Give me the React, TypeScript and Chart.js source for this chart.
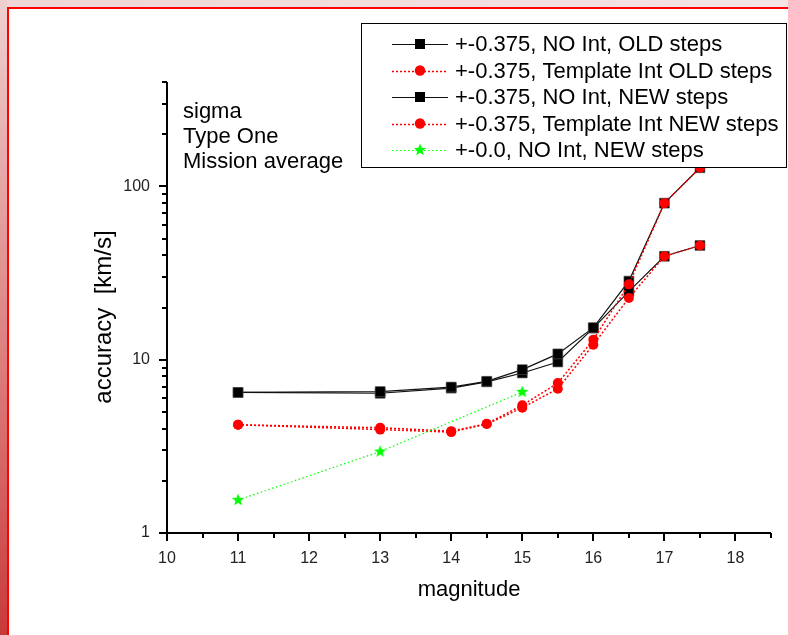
import React, { useEffect, useRef } from 'react';
import { Chart, registerables } from 'chart.js';

Chart.register(...registerables);

// ---------- data ----------
const magnitudes = [11, 13, 14, 14.5, 15, 15.5, 16, 16.5, 17, 17.5];
const noIntOldSteps = [6.47, 6.55, 6.95, 7.5, 8.76, 10.8, 15.3, 28.4, 80, 128];
const templateOldSteps = [4.21, 4.05, 3.87, 4.27, 5.46, 7.33, 13.05, 27.2, 80, 128];
const noIntNewSteps = [6.47, 6.4, 6.85, 7.45, 8.38, 9.7, 15.2, 24.8, 39.5, 45.6];
const templateNewSteps = [4.21, 3.95, 3.82, 4.25, 5.28, 6.8, 12.2, 22.7, 39.5, 45.6];
const zeroMagnitudes = [11, 13, 15];
const zeroNoIntNewSteps = [1.55, 2.95, 6.51];

const seriesLabels = [
  '+-0.375, NO Int, OLD steps',
  '+-0.375, Template Int OLD steps',
  '+-0.375, NO Int, NEW steps',
  '+-0.375, Template Int NEW steps',
  '+-0.0, NO Int, NEW steps',
];

const xTickValues = [10, 10.5, 11, 11.5, 12, 12.5, 13, 13.5, 14, 14.5, 15, 15.5, 16, 16.5, 17, 17.5, 18, 18.5];
const xMajorTicks = [10, 11, 12, 13, 14, 15, 16, 17, 18];
const yTickValues = [1, 2, 3, 4, 5, 6, 7, 8, 9, 10, 20, 30, 40, 50, 60, 70, 80, 90, 100, 200, 300, 400];
const yMajorTicks = [1, 10, 100];
const annotationLines = ['sigma', 'Type One', 'Mission average'];
const xTitle = 'magnitude';
const yTitle = 'accuracy  [km/s]';

const FONT = '"Liberation Sans", Arial, Helvetica, sans-serif';

function makeStar(size: number, color: string): HTMLCanvasElement {
  const c = document.createElement('canvas');
  c.width = size;
  c.height = size;
  const g = c.getContext('2d')!;
  drawStar(g, size / 2, size / 2, size / 2 - 0.5, color);
  return c;
}

function drawStar(g: CanvasRenderingContext2D, cx: number, cy: number, R: number, color: string) {
  const r = R * 0.42;
  g.beginPath();
  for (let i = 0; i < 10; i++) {
    const ang = -Math.PI / 2 + (i * Math.PI) / 5;
    const rr = i % 2 === 0 ? R : r;
    const px = cx + rr * Math.cos(ang);
    const py = cy + rr * Math.sin(ang);
    if (i === 0) g.moveTo(px, py);
    else g.lineTo(px, py);
  }
  g.closePath();
  g.fillStyle = color;
  g.fill();
}

const pts = (xs: number[], ys: number[]) => xs.map((x, i) => ({ x, y: ys[i] }));

type Style = {
  color: string;
  dash: number[];
  width: number;
  marker: 'square' | 'circle' | 'star';
};

const styles: Style[] = [
  { color: '#111111', dash: [], width: 1.2, marker: 'square' },
  { color: '#ff0000', dash: [2, 2], width: 1.5, marker: 'circle' },
  { color: '#111111', dash: [], width: 1.2, marker: 'square' },
  { color: '#ff0000', dash: [2, 2], width: 1.5, marker: 'circle' },
  { color: '#00ff00', dash: [1.5, 2.5], width: 1.2, marker: 'star' },
];

function drawMarker(g: CanvasRenderingContext2D, m: Style['marker'], x: number, y: number) {
  if (m === 'square') {
    g.fillStyle = '#000';
    g.fillRect(x - 5, y - 5, 10, 10);
  } else if (m === 'circle') {
    g.beginPath();
    g.arc(x, y, 5.2, 0, Math.PI * 2);
    g.fillStyle = '#ff0000';
    g.fill();
  } else {
    drawStar(g, x, y, 6.5, '#00ff00');
  }
}

const decorPlugin = {
  id: 'decor',
  afterDatasetsDraw(chart: any) {
    const { ctx, chartArea, scales } = chart;
    const xs = scales.x;
    const ys = scales.y;
    const left = chartArea.left;
    const bottom = chartArea.bottom;
    const top = chartArea.top;
    const right = chartArea.right;
    ctx.save();
    ctx.strokeStyle = '#000';
    ctx.lineWidth = 2;
    ctx.setLineDash([]);
    ctx.beginPath();
    ctx.moveTo(left, top);
    ctx.lineTo(left, bottom);
    ctx.lineTo(right, bottom);
    ctx.stroke();
    ctx.beginPath();
    xTickValues.forEach((v) => {
      const px = Math.round(xs.getPixelForValue(v));
      const len = xMajorTicks.includes(v) ? 8 : 5;
      ctx.moveTo(px, bottom);
      ctx.lineTo(px, bottom + len);
    });
    yTickValues.forEach((v) => {
      const py = Math.round(ys.getPixelForValue(v));
      const len = yMajorTicks.includes(v) ? 8 : 5;
      ctx.moveTo(left, py);
      ctx.lineTo(left - len, py);
    });
    ctx.stroke();

    // y axis title
    ctx.save();
    ctx.translate(104, 317);
    ctx.rotate(-Math.PI / 2);
    ctx.fillStyle = '#000';
    ctx.font = `24px ${FONT}`;
    ctx.textAlign = 'center';
    ctx.textBaseline = 'middle';
    ctx.fillText(yTitle, 0, 0);
    ctx.restore();

    // annotation text
    ctx.fillStyle = '#000';
    ctx.font = `22px ${FONT}`;
    ctx.textBaseline = 'middle';
    ctx.textAlign = 'left';
    annotationLines.forEach((t, i) => ctx.fillText(t, 183, 112 + i * 25));
    ctx.restore();
  },
  afterDraw(chart: any) {
    const { ctx } = chart;
    ctx.save();
    const bx = 361, by = 23, bw = 426, bh = 145;
    ctx.fillStyle = '#fff';
    ctx.fillRect(bx, by, bw, bh);
    ctx.strokeStyle = '#000';
    ctx.lineWidth = 1;
    ctx.setLineDash([]);
    ctx.strokeRect(bx + 0.5, by + 0.5, bw - 1, bh - 1);
    ctx.font = `22px ${FONT}`;
    ctx.textBaseline = 'middle';
    ctx.textAlign = 'left';
    seriesLabels.forEach((label, i) => {
      const st = styles[i];
      const cy = 44 + i * 26.5;
      ctx.beginPath();
      ctx.strokeStyle = st.color;
      ctx.lineWidth = st.width;
      ctx.setLineDash(st.dash);
      ctx.moveTo(392, Math.round(cy) + 0.5);
      ctx.lineTo(448, Math.round(cy) + 0.5);
      ctx.stroke();
      ctx.setLineDash([]);
      drawMarker(ctx, st.marker, 420, cy);
      ctx.fillStyle = '#000';
      ctx.fillText(label, 455, cy + 1);
    });
    ctx.restore();
  },
};

export default function App() {
  const ref = useRef<HTMLCanvasElement | null>(null);

  useEffect(() => {
    if (!ref.current) return;
    const star = makeStar(14, '#00ff00');
    const seriesData = [
      pts(magnitudes, noIntOldSteps),
      pts(magnitudes, templateOldSteps),
      pts(magnitudes, noIntNewSteps),
      pts(magnitudes, templateNewSteps),
      pts(zeroMagnitudes, zeroNoIntNewSteps),
    ];
    const datasets = seriesData.map((d, i) => {
      const st = styles[i];
      const base: any = {
        label: seriesLabels[i],
        data: d,
        borderColor: st.color,
        borderWidth: st.width,
        borderDash: st.dash,
        fill: false,
        tension: 0,
        pointBorderWidth: 0,
        order: st.marker === 'square' ? 2 : st.marker === 'circle' ? 1 : 0,
      };
      if (st.marker === 'square') {
        base.pointStyle = 'rect';
        base.pointRadius = 7;
        base.pointBackgroundColor = '#000';
        base.pointBorderColor = '#555';
        base.pointBorderWidth = 0.6;
      } else if (st.marker === 'circle') {
        base.pointStyle = 'circle';
        base.pointRadius = 5;
        base.pointBackgroundColor = '#ff0000';
        base.pointBorderColor = '#ff0000';
      } else {
        base.pointStyle = star;
        base.pointRadius = 7;
      }
      return base;
    });

    const chart = new Chart(ref.current, {
      type: 'line',
      data: { datasets },
      options: {
        animation: false,
        responsive: false,
        devicePixelRatio: 1,
        layout: { padding: { top: 82, right: 17, left: 0, bottom: 0 } },
        plugins: { legend: { display: false }, tooltip: { enabled: false } },
        scales: {
          x: {
            type: 'linear',
            min: 10,
            max: 18.5,
            afterFit: (s: any) => {
              s.height = 102;
            },
            afterBuildTicks: (s: any) => {
              s.ticks = xTickValues.map((v) => ({ value: v }));
            },
            grid: { display: false, drawTicks: false },
            border: { display: false },
            ticks: {
              autoSkip: false,
              maxRotation: 0,
              padding: 16,
              color: '#222',
              font: { family: FONT, size: 16 },
              callback: (v: any) => (xMajorTicks.includes(Number(v)) ? String(v) : ''),
            },
            title: {
              display: true,
              text: xTitle,
              color: '#000',
              font: { family: FONT, size: 22 },
              padding: { top: 0, bottom: 32 },
            },
          },
          y: {
            type: 'logarithmic',
            min: 1,
            max: 400,
            afterFit: (s: any) => {
              s.width = 167;
            },
            afterBuildTicks: (s: any) => {
              s.ticks = yTickValues.map((v) => ({ value: v }));
            },
            grid: { display: false, drawTicks: false },
            border: { display: false },
            ticks: {
              autoSkip: false,
              padding: 17,
              color: '#222',
              font: { family: FONT, size: 16 },
              callback: (v: any) => (yMajorTicks.includes(Number(v)) ? String(v) : ''),
            },
          },
        },
      },
      plugins: [decorPlugin],
    });
    return () => chart.destroy();
  }, []);

  return (
    <div
      style={{
        position: 'fixed',
        left: 0,
        top: 0,
        width: 788,
        height: 635,
        background: '#ffffff',
        overflow: 'hidden',
      }}
    >
      <div
        style={{
          position: 'absolute',
          left: 0,
          top: 0,
          width: 788,
          height: 7,
          background: 'linear-gradient(to right, #efd6d6, #f4e4e4)',
        }}
      />
      <div
        style={{
          position: 'absolute',
          left: 0,
          top: 0,
          width: 7,
          height: 635,
          background: 'linear-gradient(to bottom, #efd0d0, #d86a6a 70%, #c83a3a)',
        }}
      />
      <div style={{ position: 'absolute', left: 7, top: 7, width: 781, height: 2, background: '#ff0000' }} />
      <div style={{ position: 'absolute', left: 7, top: 7, width: 2, height: 628, background: '#ff0000' }} />
      <canvas
        ref={ref}
        width={788}
        height={635}
        style={{ position: 'absolute', left: 0, top: 0, width: 788, height: 635, display: 'block' }}
      />
    </div>
  );
}
